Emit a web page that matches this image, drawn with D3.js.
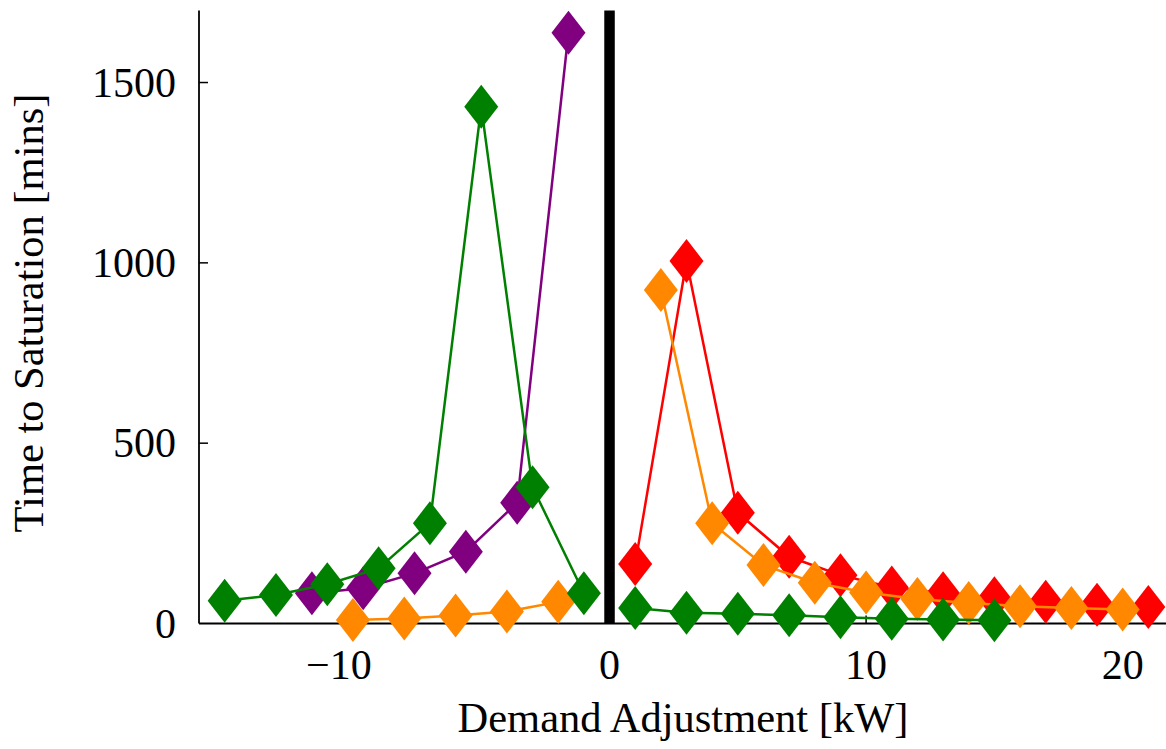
<!DOCTYPE html>
<html lang="en">
<head>
  <meta charset="UTF-8">
  <title>Time to Saturation vs Demand Adjustment</title>
  <script src="https://d3js.org/d3.v7.min.js"></script>
  <style>
    html, body {
      margin: 0;
      padding: 0;
      overflow: hidden;
      background: white;
      font-family: "Liberation Serif", serif;
    }
    svg {
      display: block;
    }
  </style>
</head>
<body>
  <svg width="1166" height="749"></svg>

  <script>
    // values
    const greenLeftX = [-15, -13, -11, -9, -7, -5, -3, -1];
    const greenLeftY = [63, 79, 109, 153, 278, 1433, 378, 84];
    const purpleX = [-11.6, -9.6, -7.6, -5.6, -3.6, -1.6];
    const purpleY = [84, 98, 139, 199, 335, 1638];
    const orangeLeftX = [-10, -8, -6, -4, -2];
    const orangeLeftY = [10, 14, 22, 33, 60];
    const redX = [1, 3, 5, 7, 9, 11, 13, 15, 17, 19, 21];
    const redY = [165, 1005, 307, 185, 134, 100, 84, 70, 60, 52, 46];
    const orangeRightX = [2, 4, 6, 8, 10, 12, 14, 16, 18, 20];
    const orangeRightY = [925, 278, 162, 113, 86, 68, 57, 48, 43, 39];
    const greenRightX = [1, 3, 5, 7, 9, 11, 13, 15];
    const greenRightY = [43, 30, 27, 23, 17, 13, 11, 9];

    const xTicks = [-10, 0, 10, 20];
    const yTicks = [0, 500, 1000, 1500];

    const series = [
      { xs: purpleX, ys: purpleY, color: "#800080" },
      { xs: redX, ys: redY, color: "#ff0000" },
      { xs: orangeLeftX, ys: orangeLeftY, color: "#ff8800" },
      { xs: orangeRightX, ys: orangeRightY, color: "#ff8800" },
      { xs: greenLeftX, ys: greenLeftY, color: "#008000" },
      { xs: greenRightX, ys: greenRightY, color: "#008000" }
    ];

    const svg = d3.select("svg");
    const plotL = 199, plotR = 1174, plotT = 10.4, plotB = 623.5;

    const x = d3.scaleLinear().domain([-16, 22]).range([plotL, plotR]);
    const y = d3.scaleLinear().domain([0, 1700]).range([plotB, plotT]);

    // axes lines
    svg.append("line")
      .attr("x1", plotL).attr("x2", plotL)
      .attr("y1", plotT).attr("y2", plotB)
      .attr("stroke", "black").attr("stroke-width", 1.8);
    svg.append("line")
      .attr("x1", plotL).attr("x2", plotR)
      .attr("y1", plotB).attr("y2", plotB)
      .attr("stroke", "black").attr("stroke-width", 1.8);

    // inward ticks
    svg.append("g").selectAll("line")
      .data(yTicks.slice(1))
      .enter().append("line")
      .attr("x1", plotL).attr("x2", plotL + 9)
      .attr("y1", d => y(d)).attr("y2", d => y(d))
      .attr("stroke", "black").attr("stroke-width", 1.5);
    svg.append("g").selectAll("line")
      .data(xTicks)
      .enter().append("line")
      .attr("x1", d => x(d)).attr("x2", d => x(d))
      .attr("y1", plotB).attr("y2", plotB - 8)
      .attr("stroke", "black").attr("stroke-width", 1.5);

    // tick labels
    svg.append("g").selectAll("text")
      .data(yTicks)
      .enter().append("text")
      .attr("x", plotL - 23)
      .attr("y", d => y(d))
      .attr("dy", "0.34em")
      .attr("text-anchor", "end")
      .attr("font-size", 42)
      .text(d => d);
    svg.append("g").selectAll("text")
      .data(xTicks)
      .enter().append("text")
      .attr("x", d => x(d))
      .attr("dx", d => d < 0 ? -14 : 0)
      .attr("y", 679)
      .attr("text-anchor", "middle")
      .attr("font-size", 42)
      .text(d => d < 0 ? "\u2212" + Math.abs(d) : d);

    // axis titles
    svg.append("text")
      .attr("x", 683).attr("y", 732)
      .attr("text-anchor", "middle")
      .attr("font-size", 42.5)
      .text("Demand Adjustment [kW]");
    svg.append("text")
      .attr("transform", "translate(43,313) rotate(-90)")
      .attr("text-anchor", "middle")
      .attr("font-size", 42.5)
      .text("Time to Saturation [mins]");

    // thick separator at zero
    svg.append("line")
      .attr("x1", x(0)).attr("x2", x(0))
      .attr("y1", y(0)).attr("y2", y(1700))
      .attr("stroke", "black").attr("stroke-width", 10.5);

    const line = d3.line().x(d => x(d[0])).y(d => y(d[1]));
    const diamond = "M0,-22L17,0L0,22L-17,0Z";

    series.forEach(s => {
      const pts = s.xs.map((v, i) => [v, s.ys[i]]);
      const g = svg.append("g");
      g.append("path")
        .datum(pts)
        .attr("d", line)
        .attr("fill", "none")
        .attr("stroke", s.color)
        .attr("stroke-width", 2.5);
      g.selectAll("path.mark")
        .data(pts)
        .enter().append("path")
        .attr("class", "mark")
        .attr("d", diamond)
        .attr("transform", d => `translate(${x(d[0])},${y(d[1])})`)
        .attr("fill", s.color);
    });
  </script>
</body>
</html>
